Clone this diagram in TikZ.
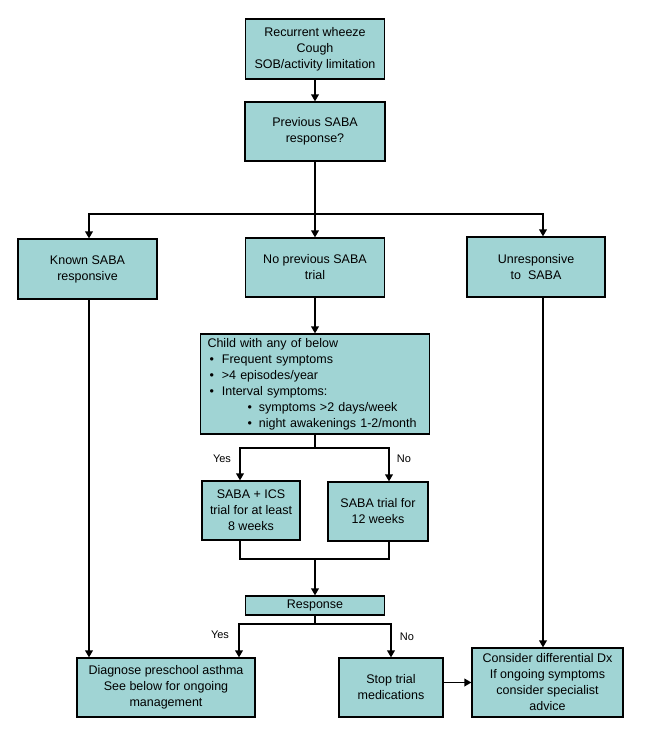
\documentclass[tikz,border=0pt]{standalone}
\usepackage{fontspec}
\setmainfont{Liberation Sans}
\usetikzlibrary{arrows.meta}
\definecolor{boxc}{RGB}{160,212,212}
\tikzset{
  box/.style={draw=black, line width=1.1pt, fill=boxc, align=center, inner sep=0pt,
    font=\fontsize{12.5pt}{16pt}\selectfont},
  arr/.style={line width=1.9pt, -{Triangle[length=7pt,width=7.5pt]}},
  ln/.style={line width=1.9pt},
  lbl/.style={font=\fontsize{11pt}{13pt}\selectfont, inner sep=0pt}
}
\begin{document}
\begin{tikzpicture}[x=1pt,y=-1pt]
\useasboundingbox (0,0) rectangle (645,732);
\node[box, minimum width=139pt, minimum height=60pt] (top) at (315,49)
  {Recurrent wheeze\\Cough\\SOB/activity limitation};
\node[box, minimum width=140pt, minimum height=59pt] (prev) at (315,131.5)
  {Previous SABA\\response?};
\node[box, minimum width=139pt, minimum height=60pt] (known) at (87.5,269)
  {Known SABA\\responsive};
\node[box, minimum width=139pt, minimum height=59pt] (noprev) at (315,267.5)
  {No previous SABA\\trial};
\node[box, minimum width=138pt, minimum height=60pt] (unresp) at (536,267)
  {Unresponsive\\to\ \ SABA};
\node[box, minimum width=229pt, minimum height=100pt, text width=215pt, align=left] (child) at (315,384)
  {Child with any of below\\
   \hspace*{2pt}\textbullet\hspace*{8pt}Frequent symptoms\\
   \hspace*{2pt}\textbullet\hspace*{8pt}>4 episodes/year\\
   \hspace*{2pt}\textbullet\hspace*{8pt}Interval symptoms:\\
   \hspace*{40pt}\textbullet\hspace*{7pt}symptoms >2 days/week\\
   \hspace*{40pt}\textbullet\hspace*{7pt}night awakenings 1-2/month};
\node[box, minimum width=98pt, minimum height=59pt] (saics) at (251,510.5)
  {SABA + ICS\\trial for at least\\8 weeks};
\node[box, minimum width=100pt, minimum height=59pt] (satrial) at (378,511.5)
  {SABA trial for\\12 weeks};
\node[box, minimum width=139pt, minimum height=19pt] (resp) at (315,605.5)
  {Response};
\node[box, minimum width=178pt, minimum height=59pt] (diag) at (166,687.5)
  {Diagnose preschool asthma\\See below for ongoing\\management};
\node[box, minimum width=104pt, minimum height=59pt] (stop) at (391,687.5)
  {Stop trial\\medications};
\node[box, minimum width=151pt, minimum height=69pt] (cons) at (547.5,682.5)
  {Consider differential Dx\\If ongoing symptoms\\consider specialist\\advice};

\coordinate (j1) at (315,214);
\coordinate (j2) at (315,448);
\coordinate (j3) at (315,559);
\coordinate (j4) at (315,624);
\coordinate (ua) at (543,297);
\coordinate (ka) at (89,299);

\draw[arr] (top) -- (prev);
\draw[ln] (prev.south) -- (j1);
\draw[arr] (j1) -| (ka |- known.north);
\draw[arr] (j1) -- (noprev.north);
\draw[arr] (j1) -| (ua |- unresp.north);
\draw[arr] (ka) -- (ka |- diag.north);
\draw[arr] (ua) -- (ua |- cons.north);
\draw[arr] (noprev) -- (child);
\draw[ln] (child.south) -- (j2);
\draw[arr] (j2) -| ([xshift=-11pt]saics.north);
\draw[arr] (j2) -| ([xshift=11pt]satrial.north);
\node[lbl] (yes1) at (222,459) {Yes};
\node[lbl] (no1) at (404,459) {No};
\draw[ln] ([xshift=-11pt]saics.south) |- (j3) -| ([xshift=11pt]satrial.south);
\draw[arr] (j3) -- (resp.north);
\draw[ln] (resp.south) -- (j4);
\draw[arr] (j4) -| ([xshift=73pt]diag.north);
\draw[arr] (j4) -| (stop.north);
\node[lbl] (yes2) at (220,635) {Yes};
\node[lbl] (no2) at (407,637) {No};
\draw[arr] (stop.east |- cons.west) -- (cons.west);
\end{tikzpicture}
\end{document}
